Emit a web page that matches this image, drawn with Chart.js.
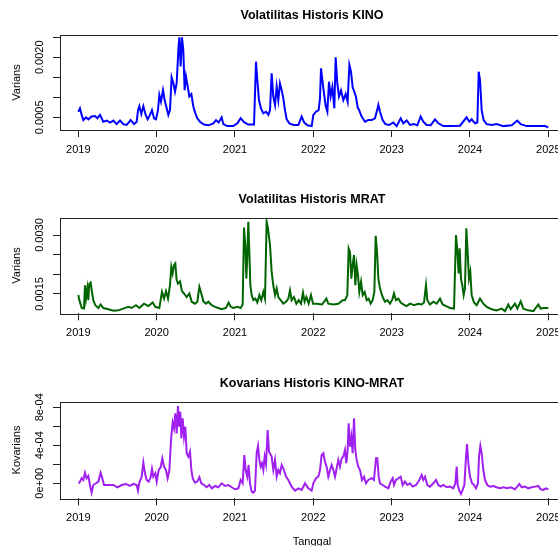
<!DOCTYPE html>
<html lang="id">
<head>
<meta charset="UTF-8">
<title>Volatilitas Historis KINO / MRAT</title>
<style>
  html, body { margin: 0; padding: 0; overflow: hidden; background: #fff; }
  body { width: 558px; height: 546px; position: relative; }
  canvas { position: absolute; left: 0; }
</style>
</head>
<body>
<canvas id="kinoChart" width="600" height="182" style="top:0px"></canvas>
<canvas id="mratChart" width="600" height="182" style="top:183px"></canvas>
<canvas id="kovChart" width="600" height="190" style="top:367px"></canvas>

<script src="https://cdn.jsdelivr.net/npm/chart.js"></script>
<script>
// ---- data ----
const yearTicks = ['2019', '2020', '2021', '2022', '2023', '2024', '2025'];

const kinoYears = [2019.000, 2019.021, 2019.043, 2019.064, 2019.098, 2019.128, 2019.170, 2019.213, 2019.243, 2019.277,
  2019.319, 2019.362, 2019.404, 2019.447, 2019.489, 2019.532, 2019.574, 2019.617, 2019.668, 2019.711,
  2019.745, 2019.762, 2019.779, 2019.804, 2019.830, 2019.860, 2019.885, 2019.915, 2019.940, 2019.966,
  2019.991, 2020.017, 2020.034, 2020.055, 2020.081, 2020.102, 2020.128, 2020.149, 2020.170, 2020.191,
  2020.213, 2020.234, 2020.255, 2020.277, 2020.289, 2020.306, 2020.323, 2020.340, 2020.357, 2020.374,
  2020.396, 2020.417, 2020.443, 2020.468, 2020.494, 2020.519, 2020.553, 2020.604, 2020.660, 2020.723,
  2020.757, 2020.791, 2020.830, 2020.851, 2020.902, 2020.979, 2021.030, 2021.072, 2021.115, 2021.170,
  2021.243, 2021.268, 2021.285, 2021.306, 2021.332, 2021.362, 2021.396, 2021.426, 2021.447, 2021.468,
  2021.489, 2021.511, 2021.532, 2021.553, 2021.574, 2021.596, 2021.617, 2021.638, 2021.660, 2021.694,
  2021.745, 2021.809, 2021.851, 2021.881, 2021.923, 2021.979, 2022.000, 2022.034, 2022.068, 2022.085,
  2022.098, 2022.115, 2022.136, 2022.158, 2022.179, 2022.200, 2022.221, 2022.243, 2022.268, 2022.285,
  2022.306, 2022.328, 2022.353, 2022.383, 2022.413, 2022.438, 2022.460, 2022.481, 2022.502, 2022.523,
  2022.545, 2022.566, 2022.587, 2022.617, 2022.660, 2022.702, 2022.745, 2022.787, 2022.817, 2022.830,
  2022.851, 2022.885, 2022.919, 2022.970, 2023.021, 2023.064, 2023.115, 2023.149, 2023.191, 2023.234,
  2023.285, 2023.328, 2023.370, 2023.404, 2023.447, 2023.498, 2023.553, 2023.596, 2023.660, 2023.766,
  2023.872, 2023.957, 2023.991, 2024.021, 2024.064, 2024.094, 2024.111, 2024.128, 2024.149, 2024.174,
  2024.213, 2024.277, 2024.340, 2024.426, 2024.532, 2024.604, 2024.647, 2024.723, 2024.851, 2024.957,
  2025.000];
const kinoVals = [6.4e-4, 7.25e-4, 5.6e-4, 4.3e-4, 5.0e-4, 4.5e-4, 5.2e-4, 5.3e-4, 4.75e-4, 5.6e-4,
  3.9e-4, 4.2e-4, 3.7e-4, 4.2e-4, 3.3e-4, 4.2e-4, 3.3e-4, 3.1e-4, 4.3e-4, 3.3e-4,
  3.9e-4, 6.8e-4, 7.8e-4, 5.8e-4, 7.8e-4, 5.6e-4, 4.5e-4, 5.6e-4, 6.8e-4, 4.75e-4,
  4.5e-4, 6.8e-4, 10.6e-4, 8.9e-4, 11.8e-4, 9.3e-4, 7.25e-4, 5.6e-4, 6.8e-4, 15.0e-4,
  13.5e-4, 11.4e-4, 13.5e-4, 21.8e-4, 25.0e-4, 17.7e-4, 25.0e-4, 21.8e-4, 11.8e-4, 15.2e-4,
  12.7e-4, 10.2e-4, 10.8e-4, 7.7e-4, 6.0e-4, 4.75e-4, 3.9e-4, 3.2e-4, 3.0e-4, 3.5e-4,
  4.3e-4, 3.7e-4, 5.0e-4, 3.3e-4, 2.8e-4, 2.8e-4, 3.5e-4, 4.8e-4, 3.8e-4, 3.2e-4,
  3.2e-4, 18.9e-4, 14.3e-4, 9.3e-4, 7.25e-4, 6.0e-4, 6.4e-4, 5.6e-4, 6.8e-4, 16.0e-4,
  10.2e-4, 8.1e-4, 12.7e-4, 9.3e-4, 13.5e-4, 11.8e-4, 9.75e-4, 6.8e-4, 4.5e-4, 3.5e-4,
  3.1e-4, 3.1e-4, 5.2e-4, 3.8e-4, 3.0e-4, 2.8e-4, 5.6e-4, 6.4e-4, 6.8e-4, 9.75e-4,
  17.25e-4, 14.3e-4, 11.0e-4, 7.8e-4, 6.4e-4, 13.9e-4, 10.2e-4, 12.5e-4, 7.25e-4, 20.0e-4,
  13.5e-4, 10.2e-4, 11.7e-4, 9.3e-4, 10.8e-4, 8.9e-4, 18.1e-4, 16.4e-4, 12.5e-4, 11.4e-4,
  10.0e-4, 7.5e-4, 6.7e-4, 5.2e-4, 3.9e-4, 4.3e-4, 4.3e-4, 4.75e-4, 7.0e-4, 8.1e-4,
  6.4e-4, 4.3e-4, 3.3e-4, 3.1e-4, 3.7e-4, 2.8e-4, 4.75e-4, 3.5e-4, 4.2e-4, 3.1e-4,
  3.3e-4, 3.0e-4, 5.2e-4, 3.9e-4, 3.1e-4, 3.0e-4, 4.5e-4, 3.5e-4, 2.8e-4, 2.8e-4,
  2.9e-4, 5.0e-4, 3.9e-4, 4.5e-4, 3.5e-4, 3.7e-4, 16.4e-4, 14.3e-4, 6.8e-4, 4.3e-4,
  3.3e-4, 3.1e-4, 3.3e-4, 2.8e-4, 3.0e-4, 4.2e-4, 3.3e-4, 2.8e-4, 2.8e-4, 2.8e-4,
  2.5e-4];

const mratYears = [2019.000, 2019.013, 2019.043, 2019.072, 2019.085, 2019.098, 2019.115, 2019.128, 2019.140, 2019.157,
  2019.174, 2019.191, 2019.217, 2019.255, 2019.285, 2019.319, 2019.383, 2019.447, 2019.511, 2019.574,
  2019.638, 2019.681, 2019.736, 2019.779, 2019.838, 2019.894, 2019.949, 2019.983, 2020.034, 2020.068,
  2020.094, 2020.119, 2020.145, 2020.170, 2020.187, 2020.204, 2020.221, 2020.238, 2020.255, 2020.272,
  2020.298, 2020.323, 2020.349, 2020.383, 2020.417, 2020.447, 2020.489, 2020.519, 2020.545, 2020.570,
  2020.596, 2020.630, 2020.660, 2020.702, 2020.745, 2020.787, 2020.830, 2020.885, 2020.919, 2020.945,
  2020.979, 2021.030, 2021.072, 2021.098, 2021.115, 2021.132, 2021.145, 2021.157, 2021.170, 2021.183,
  2021.196, 2021.213, 2021.234, 2021.260, 2021.285, 2021.311, 2021.336, 2021.362, 2021.383, 2021.404,
  2021.421, 2021.447, 2021.468, 2021.489, 2021.511, 2021.532, 2021.553, 2021.583, 2021.617, 2021.651,
  2021.681, 2021.702, 2021.723, 2021.753, 2021.783, 2021.813, 2021.843, 2021.868, 2021.889, 2021.911,
  2021.940, 2021.970, 2021.996, 2022.047, 2022.111, 2022.166, 2022.191, 2022.255, 2022.319, 2022.374,
  2022.404, 2022.434, 2022.451, 2022.468, 2022.485, 2022.502, 2022.519, 2022.536, 2022.553, 2022.570,
  2022.587, 2022.609, 2022.630, 2022.655, 2022.681, 2022.706, 2022.732, 2022.757, 2022.779, 2022.796,
  2022.813, 2022.830, 2022.851, 2022.885, 2022.915, 2022.945, 2022.979, 2023.009, 2023.030, 2023.055,
  2023.085, 2023.115, 2023.149, 2023.191, 2023.234, 2023.285, 2023.340, 2023.383, 2023.413, 2023.438,
  2023.455, 2023.489, 2023.532, 2023.574, 2023.617, 2023.651, 2023.694, 2023.745, 2023.796, 2023.821,
  2023.838, 2023.855, 2023.868, 2023.885, 2023.902, 2023.919, 2023.936, 2023.953, 2023.970, 2023.987,
  2024.004, 2024.021, 2024.051, 2024.085, 2024.128, 2024.170, 2024.213, 2024.277, 2024.340, 2024.404,
  2024.447, 2024.489, 2024.519, 2024.574, 2024.604, 2024.647, 2024.681, 2024.745, 2024.809, 2024.872,
  2024.902, 2024.945, 2025.000];
const mratVals = [14.7e-4, 13.4e-4, 11.4e-4, 11.25e-4, 17.2e-4, 13.8e-4, 16.4e-4, 13.4e-4, 17.6e-4, 17.9e-4,
  15.5e-4, 13.4e-4, 12.1e-4, 11.4e-4, 12.3e-4, 11.4e-4, 11.1e-4, 10.7e-4, 10.8e-4, 11.25e-4,
  11.7e-4, 11.4e-4, 12.1e-4, 11.4e-4, 12.5e-4, 11.9e-4, 12.8e-4, 11.7e-4, 11.4e-4, 15.5e-4,
  13.8e-4, 15.7e-4, 13.8e-4, 17.2e-4, 21.9e-4, 20.2e-4, 22.3e-4, 22.75e-4, 18.5e-4, 17.6e-4,
  18.2e-4, 15.7e-4, 15.1e-4, 14.2e-4, 15.1e-4, 13.0e-4, 12.5e-4, 13.0e-4, 16.8e-4, 15.1e-4,
  13.1e-4, 12.5e-4, 13.0e-4, 12.1e-4, 11.7e-4, 11.4e-4, 11.1e-4, 11.4e-4, 12.8e-4, 11.7e-4,
  11.4e-4, 11.7e-4, 11.4e-4, 12.3e-4, 31.9e-4, 27.4e-4, 18.9e-4, 24.5e-4, 33.4e-4, 25.7e-4,
  17.2e-4, 14.7e-4, 13.4e-4, 13.8e-4, 12.8e-4, 14.7e-4, 13.4e-4, 15.5e-4, 13.8e-4, 33.4e-4,
  31.7e-4, 27.4e-4, 20.6e-4, 17.2e-4, 14.7e-4, 16.4e-4, 14.2e-4, 13.4e-4, 12.5e-4, 13.0e-4,
  13.8e-4, 15.9e-4, 13.4e-4, 14.2e-4, 12.5e-4, 13.4e-4, 12.5e-4, 15.3e-4, 13.0e-4, 14.2e-4,
  12.5e-4, 14.7e-4, 12.5e-4, 12.5e-4, 12.3e-4, 13.8e-4, 12.5e-4, 12.3e-4, 12.5e-4, 13.4e-4,
  13.4e-4, 14.7e-4, 26.6e-4, 25.7e-4, 18.9e-4, 22.3e-4, 24.9e-4, 17.2e-4, 22.3e-4, 19.8e-4,
  15.5e-4, 18.1e-4, 14.7e-4, 15.5e-4, 13.4e-4, 13.8e-4, 12.5e-4, 13.4e-4, 15.5e-4, 29.8e-4,
  25.7e-4, 18.9e-4, 16.4e-4, 14.2e-4, 13.0e-4, 13.4e-4, 12.5e-4, 13.6e-4, 15.1e-4, 13.4e-4,
  13.8e-4, 12.8e-4, 12.3e-4, 11.9e-4, 12.5e-4, 12.1e-4, 12.5e-4, 12.3e-4, 12.8e-4, 17.2e-4,
  13.4e-4, 12.3e-4, 13.0e-4, 12.5e-4, 13.8e-4, 12.3e-4, 11.9e-4, 11.4e-4, 11.25e-4, 30.0e-4,
  26.2e-4, 20.2e-4, 26.6e-4, 18.9e-4, 17.2e-4, 14.7e-4, 16.4e-4, 31.7e-4, 25.7e-4, 18.9e-4,
  20.6e-4, 14.7e-4, 12.8e-4, 12.1e-4, 13.8e-4, 12.5e-4, 11.7e-4, 11.1e-4, 10.8e-4, 11.25e-4,
  10.6e-4, 12.3e-4, 11.1e-4, 12.5e-4, 11.25e-4, 13.1e-4, 11.25e-4, 10.8e-4, 10.6e-4, 12.3e-4,
  11.25e-4, 11.4e-4, 11.4e-4];

const kovYears = [2019.000, 2019.013, 2019.043, 2019.064, 2019.085, 2019.106, 2019.128, 2019.149, 2019.170, 2019.191,
  2019.226, 2019.255, 2019.285, 2019.306, 2019.328, 2019.383, 2019.447, 2019.498, 2019.553, 2019.609,
  2019.660, 2019.702, 2019.745, 2019.762, 2019.779, 2019.809, 2019.830, 2019.851, 2019.872, 2019.898,
  2019.923, 2019.940, 2019.957, 2019.983, 2020.000, 2020.026, 2020.051, 2020.072, 2020.094, 2020.119,
  2020.140, 2020.162, 2020.174, 2020.187, 2020.204, 2020.221, 2020.238, 2020.255, 2020.272, 2020.285,
  2020.302, 2020.315, 2020.332, 2020.349, 2020.366, 2020.383, 2020.404, 2020.426, 2020.443, 2020.460,
  2020.489, 2020.519, 2020.545, 2020.570, 2020.604, 2020.638, 2020.672, 2020.706, 2020.745, 2020.787,
  2020.830, 2020.872, 2020.915, 2020.957, 2021.000, 2021.043, 2021.072, 2021.098, 2021.119, 2021.136,
  2021.157, 2021.174, 2021.191, 2021.213, 2021.234, 2021.255, 2021.277, 2021.294, 2021.311, 2021.328,
  2021.345, 2021.362, 2021.379, 2021.396, 2021.417, 2021.434, 2021.468, 2021.489, 2021.511, 2021.532,
  2021.553, 2021.574, 2021.596, 2021.617, 2021.651, 2021.681, 2021.723, 2021.766, 2021.809, 2021.851,
  2021.894, 2021.936, 2021.979, 2022.000, 2022.034, 2022.064, 2022.085, 2022.106, 2022.128, 2022.149,
  2022.170, 2022.191, 2022.213, 2022.234, 2022.255, 2022.277, 2022.298, 2022.319, 2022.340, 2022.362,
  2022.383, 2022.404, 2022.421, 2022.438, 2022.451, 2022.468, 2022.485, 2022.502, 2022.519, 2022.536,
  2022.553, 2022.574, 2022.596, 2022.621, 2022.647, 2022.672, 2022.702, 2022.745, 2022.774, 2022.800,
  2022.817, 2022.834, 2022.851, 2022.885, 2022.915, 2022.957, 2022.987, 2023.013, 2023.030, 2023.055,
  2023.085, 2023.115, 2023.140, 2023.170, 2023.200, 2023.234, 2023.268, 2023.311, 2023.353, 2023.383,
  2023.404, 2023.426, 2023.455, 2023.489, 2023.532, 2023.566, 2023.596, 2023.626, 2023.660, 2023.702,
  2023.745, 2023.787, 2023.813, 2023.830, 2023.843, 2023.864, 2023.885, 2023.906, 2023.928, 2023.949,
  2023.962, 2023.979, 2024.000, 2024.026, 2024.051, 2024.077, 2024.102, 2024.115, 2024.132, 2024.149,
  2024.170, 2024.191, 2024.221, 2024.255, 2024.298, 2024.340, 2024.383, 2024.426, 2024.477, 2024.519,
  2024.574, 2024.604, 2024.630, 2024.660, 2024.702, 2024.745, 2024.787, 2024.830, 2024.872, 2024.902,
  2024.936, 2024.970, 2025.000];
const kovVals = [0.07e-4, 0.07e-4, 0.53e-4, 0.35e-4, 1.12e-4, 0.53e-4, 0.77e-4, -0.18e-4, -0.98e-4, -0.18e-4,
  0.0, 0.18e-4, 1.12e-4, 0.53e-4, -0.18e-4, -0.18e-4, -0.18e-4, -0.42e-4, -0.18e-4, -0.07e-4,
  -0.28e-4, -0.07e-4, -0.18e-4, -0.77e-4, 0.07e-4, 0.70e-4, 2.18e-4, 1.05e-4, 0.35e-4, 0.18e-4,
  0.63e-4, 1.51e-4, 0.70e-4, 1.05e-4, 0.18e-4, 1.40e-4, 1.68e-4, 2.63e-4, 1.75e-4, 1.40e-4,
  0.53e-4, 1.40e-4, 3.16e-4, 4.91e-4, 6.39e-4, 5.79e-4, 7.37e-4, 5.26e-4, 8.14e-4, 5.96e-4,
  7.54e-4, 4.74e-4, 6.84e-4, 4.91e-4, 5.96e-4, 3.16e-4, 2.81e-4, 3.33e-4, 1.40e-4, 0.53e-4,
  0.07e-4, 0.18e-4, 0.63e-4, 0.0, -0.18e-4, -0.42e-4, -0.18e-4, -0.53e-4, -0.28e-4, -0.42e-4,
  0.0, -0.28e-4, -0.18e-4, -0.42e-4, -0.63e-4, -0.53e-4, 0.35e-4, 0.0, 2.98e-4, 1.40e-4,
  0.70e-4, 1.93e-4, 0.0, -0.88e-4, -0.98e-4, -0.77e-4, 3.23e-4, 3.93e-4, 2.46e-4, 1.75e-4,
  2.11e-4, 1.40e-4, 2.81e-4, 2.04e-4, 5.61e-4, 3.33e-4, 2.81e-4, 1.40e-4, 2.46e-4, 0.70e-4,
  1.40e-4, 1.05e-4, 1.93e-4, 1.58e-4, 0.70e-4, 0.35e-4, -0.35e-4, -0.77e-4, -0.53e-4, -0.70e-4,
  0.0, -0.53e-4, -0.77e-4, 0.0, 0.53e-4, 0.70e-4, 1.40e-4, 2.98e-4, 3.16e-4, 2.28e-4,
  1.75e-4, 0.70e-4, 1.40e-4, 1.93e-4, 1.40e-4, 0.70e-4, 1.58e-4, 2.46e-4, 1.75e-4, 2.63e-4,
  2.81e-4, 3.51e-4, 2.11e-4, 3.51e-4, 6.32e-4, 3.86e-4, 4.91e-4, 3.16e-4, 6.84e-4, 3.51e-4,
  2.46e-4, 1.75e-4, 1.40e-4, 0.35e-4, 0.70e-4, 0.0, 0.35e-4, 0.53e-4, 0.35e-4, 2.63e-4,
  2.63e-4, 0.70e-4, 0.0, -0.18e-4, -0.35e-4, -0.53e-4, 0.18e-4, 0.53e-4, -0.18e-4, 0.35e-4,
  0.53e-4, 0.70e-4, -0.18e-4, 0.18e-4, -0.18e-4, 0.0, -0.35e-4, -0.18e-4, 0.35e-4, 0.88e-4,
  0.35e-4, 0.70e-4, -0.18e-4, -0.35e-4, 0.0, 0.35e-4, -0.18e-4, -0.35e-4, -0.18e-4, -0.42e-4,
  -0.35e-4, -0.53e-4, 0.0, 1.75e-4, -0.18e-4, -0.77e-4, -1.12e-4, -0.70e-4, -0.18e-4, 2.81e-4,
  4.14e-4, 2.11e-4, 0.70e-4, 0.0, -0.18e-4, -0.53e-4, 0.0, 2.81e-4, 3.93e-4, 3.16e-4,
  1.40e-4, 0.35e-4, -0.18e-4, -0.35e-4, -0.28e-4, -0.42e-4, -0.53e-4, -0.42e-4, -0.53e-4, -0.42e-4,
  -0.63e-4, -0.35e-4, -0.07e-4, -0.42e-4, -0.35e-4, -0.53e-4, -0.42e-4, -0.35e-4, -0.28e-4, -0.63e-4,
  -0.70e-4, -0.53e-4, -0.63e-4];

// labelled y ticks (R drops the labels that would overlap)
const kinoTickVals = [0.0005, 0.0020];
const kinoTickText = ['0.0005', '0.0020'];
const mratTickVals = [0.0015, 0.0030];
const mratTickText = ['0.0015', '0.0030'];
const kovTickVals = [0, 0.0004, 0.0008];
const kovTickText = ['0e+00', '4e-04', '8e-04'];

// ---- drawing ----
Chart.defaults.font.family = "'Liberation Sans', Arial, sans-serif";
Chart.defaults.color = '#000';

const CANVAS_W = 600;
const BOX_LEFT = 60;
const BOX_RIGHT = 564;

function toPoints(xs, ys) {
  return xs.map((x, i) => ({ x: x, y: ys[i] }));
}

function tickLabeler(vals, texts) {
  return function (value) {
    for (let i = 0; i < vals.length; i++) {
      if (Math.abs(value - vals[i]) < 1e-9) return texts[i];
    }
    return '';
  };
}

// R style box round the plot region (axis borders are off, so it is drawn once)
const boxFrame = {
  id: 'boxFrame',
  afterDatasetsDraw(chart) {
    const { ctx, chartArea: a } = chart;
    ctx.save();
    ctx.strokeStyle = '#222';
    ctx.lineWidth = 1;
    ctx.strokeRect(Math.round(a.left) + 0.5, Math.round(a.top) + 0.5,
      Math.round(a.right - a.left), Math.round(a.bottom - a.top));
    ctx.restore();
  }
};

function makeChart(id, p) {
  const lh = 12.5 * 1.2;
  return new Chart(document.getElementById(id), {
    type: 'line',
    data: {
      datasets: [{
        data: toPoints(p.xs, p.ys),
        borderColor: p.color,
        borderWidth: 2,
        pointRadius: 0,
        tension: 0,
        fill: false
      }]
    },
    options: {
      responsive: false,
      animation: false,
      events: [],
      parsing: false,
      layout: { padding: { left: 0, right: CANVAS_W - BOX_RIGHT, top: 0, bottom: 0 } },
      plugins: {
        legend: { display: false },
        tooltip: { enabled: false },
        title: {
          display: true,
          text: p.title,
          fullSize: false,
          color: '#000',
          font: { size: 12.5, weight: 'bold' },
          padding: { top: p.titleMid - lh / 2, bottom: p.boxTop - p.titleMid - lh / 2 }
        }
      },
      scales: {
        x: {
          type: 'linear',
          min: 2018.766,
          max: 2025.2,
          afterFit: s => { s.height = p.h - p.boxBottom; },
          border: { display: false },
          grid: { drawOnChartArea: false, drawTicks: true, tickLength: 7, color: '#222' },
          ticks: {
            stepSize: 1,
            includeBounds: false,
            autoSkip: false,
            maxRotation: 0,
            padding: 6,
            font: { size: 11 },
            callback: v => yearTicks.indexOf(String(v)) >= 0 ? String(v) : ''
          },
          title: {
            display: !!p.xTitle,
            text: p.xTitle || '',
            font: { size: 11 },
            padding: { top: 0, bottom: 8.4 }
          }
        },
        y: {
          min: p.yMin,
          max: p.yMax,
          afterFit: s => { s.width = BOX_LEFT; },
          border: { display: false },
          grid: { drawOnChartArea: false, drawTicks: true, tickLength: 7, color: '#222' },
          ticks: {
            stepSize: p.yStep,
            includeBounds: false,
            autoSkip: false,
            minRotation: 90,
            maxRotation: 90,
            crossAlign: 'center',
            padding: p.yPad,
            font: { size: 11 },
            callback: tickLabeler(p.tickVals, p.tickText)
          },
          title: {
            display: true,
            text: p.yTitle,
            font: { size: 11 },
            padding: { top: 10.4, bottom: 0 }
          }
        }
      }
    },
    plugins: [boxFrame]
  });
}

makeChart('kinoChart', {
  xs: kinoYears, ys: kinoVals, color: '#0000FF',
  title: 'Volatilitas Historis KINO', yTitle: 'Varians',
  h: 182, titleMid: 16, boxTop: 35, boxBottom: 130,
  yMin: 0.000183, yMax: 0.002557, yStep: 0.0005, yPad: -3.8,
  tickVals: kinoTickVals, tickText: kinoTickText
});

makeChart('mratChart', {
  xs: mratYears, ys: mratVals, color: '#006400',
  title: 'Volatilitas Historis MRAT', yTitle: 'Varians',
  h: 182, titleMid: 17, boxTop: 34.7, boxBottom: 130.3,
  yMin: 0.001005, yMax: 0.003442, yStep: 0.0005, yPad: -3.8,
  tickVals: mratTickVals, tickText: mratTickText
});

makeChart('kovChart', {
  xs: kovYears, ys: kovVals, color: '#A020F0',
  title: 'Kovarians Historis KINO-MRAT', yTitle: 'Kovarians', xTitle: 'Tanggal',
  h: 190, titleMid: 17, boxTop: 34.7, boxBottom: 131.3,
  yMin: -0.000158, yMax: 0.000859, yStep: 0.0002, yPad: -2.5,
  tickVals: kovTickVals, tickText: kovTickText
});
</script>
</body>
</html>
